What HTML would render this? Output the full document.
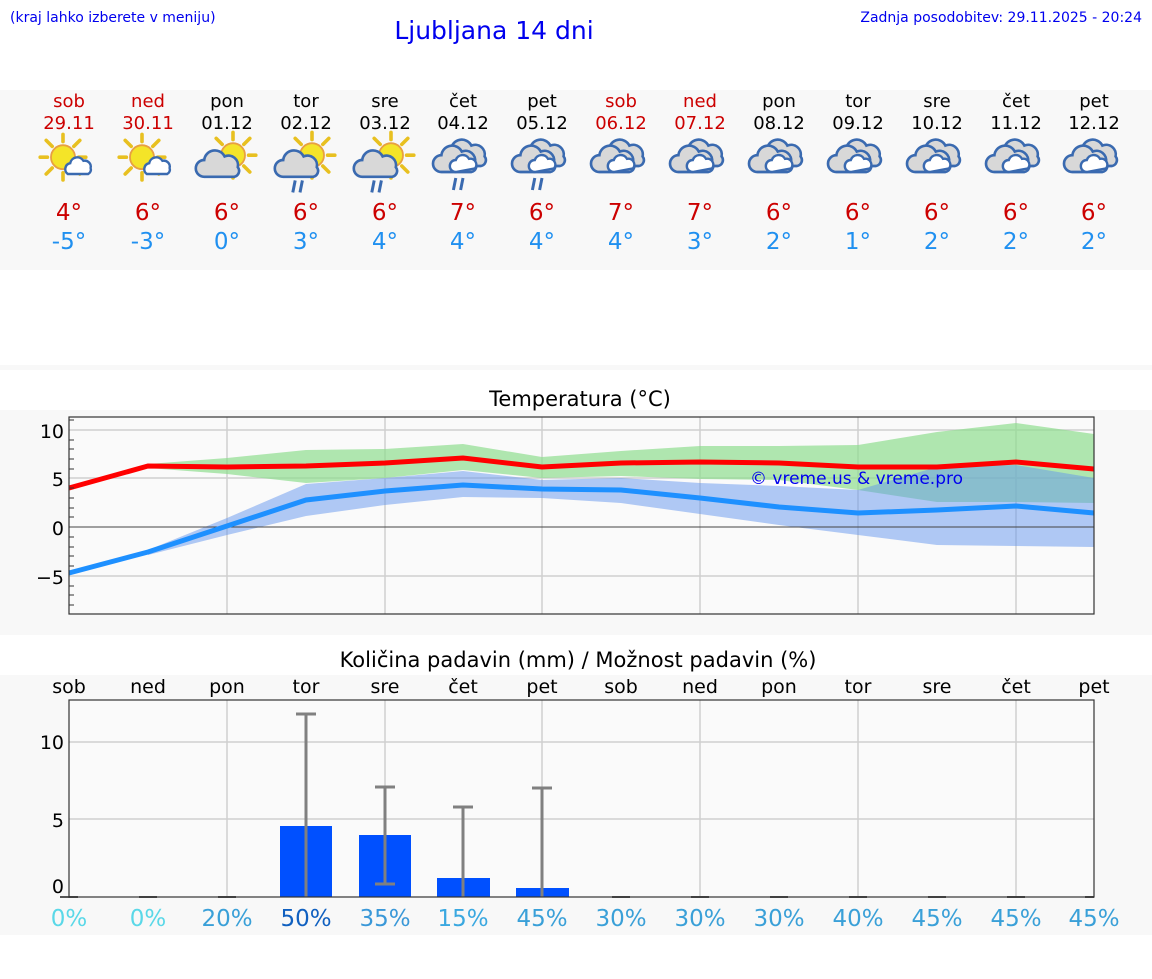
<!DOCTYPE html>
<html><head><meta charset="utf-8"><style>
body{margin:0;background:#fff;width:1152px;height:975px;overflow:hidden;font-family:"DejaVu Sans","Liberation Sans",sans-serif}
</style></head><body>
<svg width="1152" height="975" viewBox="0 0 1152 975" xmlns="http://www.w3.org/2000/svg" font-family="DejaVu Sans, Liberation Sans, sans-serif">
<defs>
<g id="sun">
<g stroke="#e8c020" stroke-width="3" stroke-linecap="round">
<line x1="0" y1="-13" x2="0" y2="-19"/><line x1="9" y1="-9" x2="14" y2="-14"/><line x1="13" y1="0" x2="19" y2="0"/><line x1="9" y1="9" x2="14" y2="14"/><line x1="0" y1="13" x2="0" y2="19"/><line x1="-9" y1="9" x2="-14" y2="14"/><line x1="-13" y1="0" x2="-19" y2="0"/><line x1="-9" y1="-9" x2="-14" y2="-14"/></g>
<circle r="10" fill="#f4e428" stroke="#e8a040" stroke-width="1.5"/>
</g>
<path id="smc" d="M-8,6 a5,5 0 0 1 2,-9 a6,6 0 0 1 11,-2 a5,5 0 0 1 6,6 a4,4 0 0 1 -2,5 z" fill="#fff" stroke="#3a6ab0" stroke-width="2"/>
<path id="gc" d="M-14,8 a7,7 0 0 1 0,-14 a9,9 0 0 1 17,-3 a8,8 0 0 1 11,9 a5,5 0 0 1 -3,8 z" fill="#d8d8d8" stroke="#3a6ab0" stroke-width="2.2"/>
<g id="rain" stroke="#3a6ab0" stroke-width="2.5"><line x1="-4" y1="0" x2="-6" y2="10"/><line x1="2" y1="0" x2="0" y2="10"/></g>
<g id="ovc"><use href="#gc" transform="translate(4,-3)"/><use href="#gc" transform="translate(-4,2)"/><path d="M-6,10 a5,5 0 0 1 0,-10 a6,6 0 0 1 11,-1 a5,5 0 0 1 5,8 z" fill="#fff" stroke="#3a6ab0" stroke-width="2"/></g>
</defs>

<text x="10" y="22" font-size="14" fill="#0000ee">(kraj lahko izberete v meniju)</text>
<text x="494" y="39" font-size="25" fill="#0000ee" text-anchor="middle">Ljubljana 14 dni</text>
<text x="1142" y="22" font-size="14" fill="#0000ee" text-anchor="end">Zadnja posodobitev: 29.11.2025 - 20:24</text>

<rect x="0" y="90" width="1152" height="180" fill="#f8f8f8"/>
<rect x="0" y="365" width="1152" height="5" fill="#f8f8f8"/>
<g font-size="18" text-anchor="middle">
<g fill="#cc0000"><text x="69" y="107">sob</text><text x="69" y="129">29.11</text><text x="148" y="107">ned</text><text x="148" y="129">30.11</text>
<text x="621" y="107">sob</text><text x="621" y="129">06.12</text><text x="700" y="107">ned</text><text x="700" y="129">07.12</text></g>
<g fill="#000"><text x="227" y="107">pon</text><text x="227" y="129">01.12</text><text x="306" y="107">tor</text><text x="306" y="129">02.12</text>
<text x="385" y="107">sre</text><text x="385" y="129">03.12</text><text x="463" y="107">čet</text><text x="463" y="129">04.12</text>
<text x="542" y="107">pet</text><text x="542" y="129">05.12</text><text x="779" y="107">pon</text><text x="779" y="129">08.12</text>
<text x="858" y="107">tor</text><text x="858" y="129">09.12</text><text x="937" y="107">sre</text><text x="937" y="129">10.12</text>
<text x="1016" y="107">čet</text><text x="1016" y="129">11.12</text><text x="1094" y="107">pet</text><text x="1094" y="129">12.12</text></g>
</g>
<!-- icons -->
<g transform="translate(69,162) scale(1.2)"><use href="#sun" transform="translate(-5,-4)"/><use href="#smc" transform="translate(7,4)"/></g>
<g transform="translate(148,162) scale(1.2)"><use href="#sun" transform="translate(-5,-4)"/><use href="#smc" transform="translate(7,4)"/></g>
<g transform="translate(227,160) scale(1.2)"><use href="#sun" transform="translate(5,-4)"/><use href="#gc" transform="translate(-5,6)"/></g>
<g transform="translate(306,160) scale(1.2)"><use href="#sun" transform="translate(5,-4)"/><use href="#gc" transform="translate(-5,6)"/><use href="#rain" transform="translate(-5,17)"/></g>
<g transform="translate(385,160) scale(1.2)"><use href="#sun" transform="translate(5,-4)"/><use href="#gc" transform="translate(-5,6)"/><use href="#rain" transform="translate(-5,17)"/></g>
<g transform="translate(463,160) scale(1.2)"><use href="#ovc"/><use href="#rain" transform="translate(-2,15)"/></g>
<g transform="translate(542,160) scale(1.2)"><use href="#ovc"/><use href="#rain" transform="translate(-2,15)"/></g>
<g transform="translate(621,160) scale(1.2)"><use href="#ovc"/></g>
<g transform="translate(700,160) scale(1.2)"><use href="#ovc"/></g>
<g transform="translate(779,160) scale(1.2)"><use href="#ovc"/></g>
<g transform="translate(858,160) scale(1.2)"><use href="#ovc"/></g>
<g transform="translate(937,160) scale(1.2)"><use href="#ovc"/></g>
<g transform="translate(1016,160) scale(1.2)"><use href="#ovc"/></g>
<g transform="translate(1094,160) scale(1.2)"><use href="#ovc"/></g>

<g font-size="23" text-anchor="middle">
<g fill="#cc0000"><text x="69" y="220">4°</text><text x="148" y="220">6°</text><text x="227" y="220">6°</text><text x="306" y="220">6°</text><text x="385" y="220">6°</text><text x="463" y="220">7°</text><text x="542" y="220">6°</text><text x="621" y="220">7°</text><text x="700" y="220">7°</text><text x="779" y="220">6°</text><text x="858" y="220">6°</text><text x="937" y="220">6°</text><text x="1016" y="220">6°</text><text x="1094" y="220">6°</text></g>
<g fill="#2090f0"><text x="69" y="249">-5°</text><text x="148" y="249">-3°</text><text x="227" y="249">0°</text><text x="306" y="249">3°</text><text x="385" y="249">4°</text><text x="463" y="249">4°</text><text x="542" y="249">4°</text><text x="621" y="249">4°</text><text x="700" y="249">3°</text><text x="779" y="249">2°</text><text x="858" y="249">1°</text><text x="937" y="249">2°</text><text x="1016" y="249">2°</text><text x="1094" y="249">2°</text></g>
</g>

<!-- Temperature chart -->
<rect x="0" y="410" width="1152" height="225" fill="#f8f8f8"/>
<text x="580" y="406" font-size="21" text-anchor="middle" fill="#000">Temperatura (°C)</text>
<rect x="69" y="417" width="1025" height="197" fill="#fafafa"/>
<g stroke="#d0d0d0" stroke-width="1.5">
<line x1="69" y1="430" x2="1094" y2="430"/><line x1="69" y1="478" x2="1094" y2="478"/><line x1="69" y1="576" x2="1094" y2="576"/>
<line x1="227" y1="417" x2="227" y2="614"/><line x1="385" y1="417" x2="385" y2="614"/><line x1="542" y1="417" x2="542" y2="614"/><line x1="700" y1="417" x2="700" y2="614"/><line x1="858" y1="417" x2="858" y2="614"/><line x1="1016" y1="417" x2="1016" y2="614"/>
</g>
<polygon fill="#8fdd8f" fill-opacity="0.7" points="148,464 227,458 306,450 385,449 463,444 542,457 621,451 700,446 779,446 858,445 937,432 1016,423 1094,434 1094,503 1016,502 937,502 858,490 779,480 700,479 621,476 542,478 463,470 385,478 306,483 227,474 148,468"/>
<polygon fill="#6495ed" fill-opacity="0.5" points="148,550 227,518 306,484 385,478 463,471 542,480 621,478 700,483 779,486 858,490 937,467 1016,465 1094,478 1094,547 1016,546 937,545 858,535 779,525 700,514 621,503 542,498 463,497 385,505 306,516 227,535 148,555"/>
<line x1="69" y1="527" x2="1094" y2="527" stroke="#444" stroke-width="1"/>
<polyline fill="none" stroke="#ff0000" stroke-width="5" points="69,488 148,466 227,467 306,466 385,463 463,458 542,467 621,463 700,462 779,463 858,467 937,467 1016,462 1094,469"/>
<polyline fill="none" stroke="#1e90ff" stroke-width="5" points="69,573 148,552 227,526 306,500 385,491 463,485 542,489 621,490 700,498 779,507 858,513 937,510 1016,506 1094,513"/>
<text x="750" y="484" font-size="17" fill="#0000ee">© vreme.us &amp; vreme.pro</text>
<rect x="69" y="417" width="1025" height="197" fill="none" stroke="#333" stroke-width="1.2"/>
<g stroke="#333" stroke-width="1">
<line x1="69" y1="420" x2="74" y2="420"/><line x1="69" y1="440" x2="74" y2="440"/><line x1="69" y1="449" x2="74" y2="449"/><line x1="69" y1="459" x2="74" y2="459"/><line x1="69" y1="469" x2="74" y2="469"/><line x1="69" y1="488" x2="74" y2="488"/><line x1="69" y1="498" x2="74" y2="498"/><line x1="69" y1="508" x2="74" y2="508"/><line x1="69" y1="517" x2="74" y2="517"/><line x1="69" y1="537" x2="74" y2="537"/><line x1="69" y1="547" x2="74" y2="547"/><line x1="69" y1="556" x2="74" y2="556"/><line x1="69" y1="566" x2="74" y2="566"/><line x1="69" y1="586" x2="74" y2="586"/><line x1="69" y1="595" x2="74" y2="595"/><line x1="69" y1="605" x2="74" y2="605"/>
</g>
<g font-size="19" text-anchor="end" fill="#000"><text x="64" y="438">10</text><text x="64" y="486">5</text><text x="64" y="535">0</text><text x="64" y="584">−5</text></g>

<!-- Precip chart -->
<text x="578" y="667" font-size="21" text-anchor="middle" fill="#000">Količina padavin (mm) / Možnost padavin (%)</text>
<rect x="0" y="675" width="1152" height="260" fill="#f8f8f8"/>
<g font-size="19" text-anchor="middle" fill="#000">
<text x="69" y="693">sob</text><text x="148" y="693">ned</text><text x="227" y="693">pon</text><text x="306" y="693">tor</text><text x="385" y="693">sre</text><text x="463" y="693">čet</text><text x="542" y="693">pet</text><text x="621" y="693">sob</text><text x="700" y="693">ned</text><text x="779" y="693">pon</text><text x="858" y="693">tor</text><text x="937" y="693">sre</text><text x="1016" y="693">čet</text><text x="1094" y="693">pet</text></g>
<rect x="69" y="700" width="1025" height="197" fill="#fafafa"/>
<g stroke="#d0d0d0" stroke-width="1.5">
<line x1="69" y1="742" x2="1094" y2="742"/><line x1="69" y1="819" x2="1094" y2="819"/>
<line x1="227" y1="700" x2="227" y2="897"/><line x1="385" y1="700" x2="385" y2="897"/><line x1="542" y1="700" x2="542" y2="897"/><line x1="700" y1="700" x2="700" y2="897"/><line x1="858" y1="700" x2="858" y2="897"/><line x1="1016" y1="700" x2="1016" y2="897"/>
</g>
<g fill="#0050ff"><rect x="280" y="826" width="52" height="71"/><rect x="359" y="835" width="52" height="62"/><rect x="437" y="878" width="53" height="19"/><rect x="516" y="888" width="53" height="9"/></g>
<g stroke="#808080" stroke-width="3">
<line x1="306" y1="714" x2="306" y2="897"/><line x1="296" y1="714" x2="316" y2="714"/>
<line x1="385" y1="787" x2="385" y2="884"/><line x1="375" y1="787" x2="395" y2="787"/><line x1="375" y1="884" x2="395" y2="884"/>
<line x1="463" y1="807" x2="463" y2="897"/><line x1="453" y1="807" x2="473" y2="807"/>
<line x1="542" y1="788" x2="542" y2="897"/><line x1="532" y1="788" x2="552" y2="788"/>
</g>
<g stroke="#555" stroke-width="2"><line x1="60" y1="897" x2="78" y2="897"/><line x1="139" y1="897" x2="157" y2="897"/><line x1="218" y1="897" x2="236" y2="897"/><line x1="612" y1="897" x2="630" y2="897"/><line x1="691" y1="897" x2="709" y2="897"/><line x1="770" y1="897" x2="788" y2="897"/><line x1="849" y1="897" x2="867" y2="897"/><line x1="928" y1="897" x2="946" y2="897"/><line x1="1007" y1="897" x2="1025" y2="897"/><line x1="1085" y1="897" x2="1094" y2="897"/></g>
<rect x="69" y="700" width="1025" height="197" fill="none" stroke="#333" stroke-width="1.2"/>
<g font-size="19" text-anchor="end" fill="#000"><text x="64" y="749">10</text><text x="64" y="827">5</text><text x="64" y="893">0</text></g>
<g font-size="23" text-anchor="middle">
<text x="69" y="926" fill="#5ad8e8">0%</text><text x="148" y="926" fill="#5ad8e8">0%</text><text x="227" y="926" fill="#3aa0d8">20%</text>
<text x="306" y="926" fill="#1060c0">50%</text><text x="385" y="926" fill="#3a98d8">35%</text><text x="463" y="926" fill="#3aa8e0">15%</text><text x="542" y="926" fill="#3aa0d8">45%</text>
<text x="621" y="926" fill="#3aa0d8">30%</text><text x="700" y="926" fill="#3aa0d8">30%</text><text x="779" y="926" fill="#3aa0d8">30%</text><text x="858" y="926" fill="#3aa0d8">40%</text><text x="937" y="926" fill="#3aa0d8">45%</text><text x="1016" y="926" fill="#3aa0d8">45%</text><text x="1094" y="926" fill="#3aa0d8">45%</text>
</g>
</svg>
</body></html>
